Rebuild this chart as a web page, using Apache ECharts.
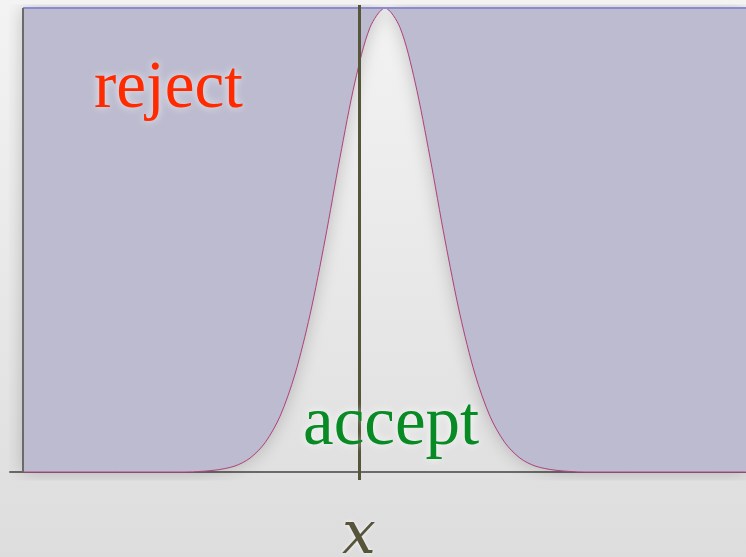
<!DOCTYPE html>
<html>
<head>
<meta charset="utf-8">
<script src="https://cdn.jsdelivr.net/npm/echarts@6/dist/echarts.min.js"></script>
<style>
  html, body {margin: 0; padding: 0;}
  #main {width: 746px; height: 557px;}
</style>
</head>
<body>
<div id="main"></div>
<script>
// curve: x position, height (0 = baseline, 1 = top)
const curveX = [0, 162, 192, 212, 227, 242, 257, 272, 287, 302, 317, 332, 347, 362,
  377, 392, 407, 422, 437, 452, 467, 482, 497, 512, 532, 562, 723];
const curveY = [0, 0, 0.004, 0.013, 0.030, 0.063, 0.120, 0.211, 0.339, 0.500, 0.678, 0.841, 0.958, 1.0,
  0.958, 0.841, 0.678, 0.500, 0.339, 0.211, 0.120, 0.063, 0.030, 0.013, 0.004, 0, 0];
const sampleX = 336;
const labels = ['reject', 'accept', 'x'];

const myChart = echarts.init(document.getElementById('main'));
const curve = curveX.map((x, i) => [x, curveY[i]]);

myChart.setOption({
  animation: false,
  backgroundColor: {
    type: 'linear', x: 0, y: 0, x2: 0, y2: 1,
    colorStops: [{offset: 0, color: '#f3f3f3'}, {offset: 1, color: '#dddddd'}]
  },
  grid: {left: 10, right: 0, top: 5, bottom: 77},
  xAxis: {
    type: 'value', min: -13, max: 723,
    axisLabel: {show: false}, axisTick: {show: false}, splitLine: {show: false},
    axisLine: {onZero: true, lineStyle: {color: '#6a6a6a', width: 2}}
  },
  yAxis: {
    type: 'value', min: -0.0172, max: 1.0065, show: false
  },
  series: [
    {
      type: 'line',
      data: curve,
      smooth: 0.3,
      symbol: 'none',
      lineStyle: {color: '#b0407a', width: 1},
      areaStyle: {
        origin: 1,
        color: '#bcbbcf',
        opacity: 1,
        shadowBlur: 18,
        shadowColor: 'rgba(0,0,0,0.22)'
      },
      markLine: {
        silent: true,
        symbol: 'none',
        lineStyle: {color: '#56553a', width: 3, type: 'solid'},
        label: {
          position: 'start',
          distance: 27,
          formatter: labels[2],
          fontFamily: 'DejaVu Serif',
          fontStyle: 'italic',
          fontSize: 60,
          color: '#56553a',
          textShadowBlur: 4,
          textShadowColor: 'rgba(255,255,255,0.8)'
        },
        data: [{xAxis: sampleX}]
      }
    },
    {
      type: 'line',
      data: [[0, 1], [723, 1]],
      symbol: 'none',
      lineStyle: {color: '#8b8bd0', width: 2}
    },
    {
      type: 'line',
      data: [[0, 0], [0, 1]],
      symbol: 'none',
      lineStyle: {color: '#6a6a6a', width: 2}
    }
  ],
  graphic: [
    {
      type: 'text', left: 94, top: 56, z: 100,
      style: {
        text: labels[0], font: '67px "Liberation Serif"', fill: '#ff2a00',
        textShadowBlur: 8, textShadowColor: 'rgba(255,255,255,0.8)'
      }
    },
    {
      type: 'text', left: 303, top: 391, z: 100,
      style: {
        text: labels[1], font: '69px "Liberation Serif"', fill: '#088a24',
        textShadowBlur: 8, textShadowColor: 'rgba(255,255,255,0.9)'
      }
    }
  ]
});
</script>
</body>
</html>
